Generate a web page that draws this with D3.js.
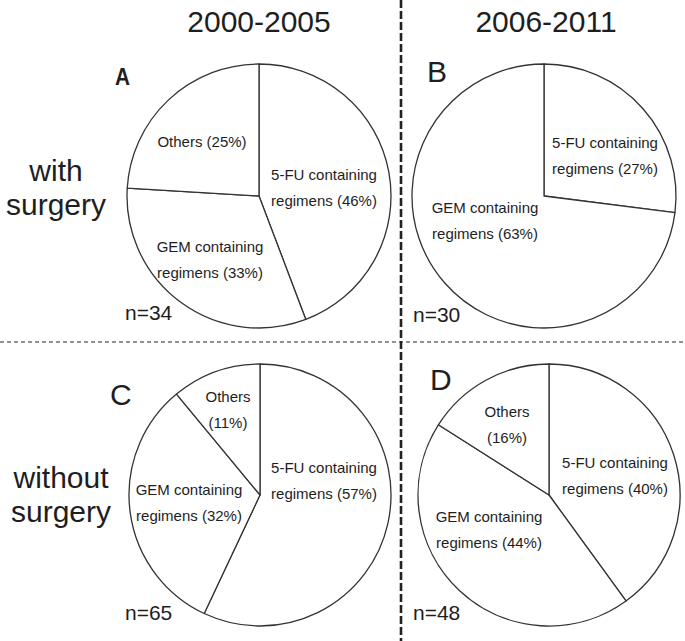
<!DOCTYPE html>
<html>
<head>
<meta charset="utf-8">
<script src="https://d3js.org/d3.v7.min.js"></script>
<style>
  body { margin: 0; background: #fff; }
  text { font-family: "Liberation Sans", Arial, sans-serif; fill: #1e1e1e; }
</style>
</head>
<body>
<script>
// data
let periods = ["2000-2005", "2006-2011"];
let groups = [["with", "surgery"], ["without", "surgery"]];
let panels = ["A", "B", "C", "D"];
let regimens = ["5-FU containing regimens", "GEM containing regimens", "Others"];
let counts = [34, 30, 65, 48];
// percentages printed in the labels
let pctA = [46, 33, 25];
let pctB = [27, 63];
let pctC = [57, 32, 11];
let pctD = [40, 44, 16];
// slice sizes as drawn (B's GEM slice fills the rest of the circle)
let shareA = [46, 33, 25];
let shareB = [27, 73];
let shareC = [57, 32, 11];
let shareD = [40, 44, 16];

let W = 685, H = 641;
let svg = d3.select("body").append("svg").attr("width", W).attr("height", H);

// layout
let colX = d3.scaleOrdinal().domain([0, 1]).range([259, 546]);
let centers = [[259, 196], [544, 196], [260, 495], [549, 495]];
let radius = [132, 132, 131, 131];
// label anchors, relative to pie centre: [5-FU, GEM, Others]
let labelPos = [
  [[65, -16], [-49, 56], [-57, -49]],
  [[61, -48], [-59, 17]],
  [[64, -22], [-71, 0], [-32, -93]],
  [[66, -27], [-60, 27], [-42, -78]]
];
let letterPos = [[115, 85], [427, 82], [110, 405], [430, 390]];
let nPos = [[125, 320], [413, 322], [125, 620], [413, 620]];
let lineGap = 26;

let shares = [shareA, shareB, shareC, shareD];
let pcts = [pctA, pctB, pctC, pctD];

let pie = d3.pie().sort(null).value(d => d);

// dashed separators
svg.append("line").attr("x1", 0).attr("x2", W).attr("y1", 342).attr("y2", 342)
  .attr("stroke", "#222").attr("stroke-width", 1).attr("stroke-dasharray", "4,3");
svg.append("line").attr("x1", 401).attr("x2", 401).attr("y1", 0).attr("y2", H)
  .attr("stroke", "#222").attr("stroke-width", 2.6).attr("stroke-dasharray", "8,3");

// column titles
svg.selectAll(".title").data(periods).enter().append("text")
  .attr("class", "title")
  .attr("x", (d, i) => colX(i)).attr("y", 32)
  .attr("text-anchor", "middle").attr("font-size", 30)
  .text(d => d);

// row labels
let rowY = [[181, 215], [488, 522]];
let rowX = [56, 61];
groups.forEach((g, i) => {
  svg.append("text").attr("text-anchor", "middle").attr("font-size", 30)
    .selectAll("tspan").data(g).enter().append("tspan")
    .attr("x", rowX[i]).attr("y", (d, j) => rowY[i][j])
    .text(d => d);
});

panels.forEach((p, i) => {
  let g = svg.append("g").attr("transform", "translate(" + centers[i][0] + "," + centers[i][1] + ")");
  let arc = d3.arc().innerRadius(0).outerRadius(radius[i]);

  g.selectAll("path").data(pie(shares[i])).enter().append("path")
    .attr("d", arc)
    .attr("fill", "#fff")
    .attr("stroke", "#333")
    .attr("stroke-width", 1.3)
    .attr("stroke-linejoin", "round");

  // slice labels
  pcts[i].forEach((v, k) => {
    let name = regimens[k];
    let lines;
    if (k === 2) {
      lines = i === 0 ? ["Others (" + v + "%)"] : ["Others", "(" + v + "%)"];
    } else {
      let parts = name.split(" ");
      lines = [parts[0] + " " + parts[1], parts[2] + " (" + v + "%)"];
    }
    g.append("text").attr("text-anchor", "middle").attr("font-size", 15)
      .selectAll("tspan").data(lines).enter().append("tspan")
      .attr("x", labelPos[i][k][0])
      .attr("y", (d, j) => labelPos[i][k][1] + j * lineGap)
      .text(d => d);
  });

  // panel letter
  let lt = svg.append("text").attr("x", letterPos[i][0]).attr("y", letterPos[i][1]).text(p);
  if (i === 0) {
    lt.attr("font-size", 24).attr("font-weight", "bold")
      .attr("textLength", 15).attr("lengthAdjust", "spacingAndGlyphs");
  } else {
    lt.attr("font-size", 30);
  }

  svg.append("text").attr("x", nPos[i][0]).attr("y", nPos[i][1])
    .attr("font-size", 21).text("n=" + counts[i]);
});
</script>
</body>
</html>
